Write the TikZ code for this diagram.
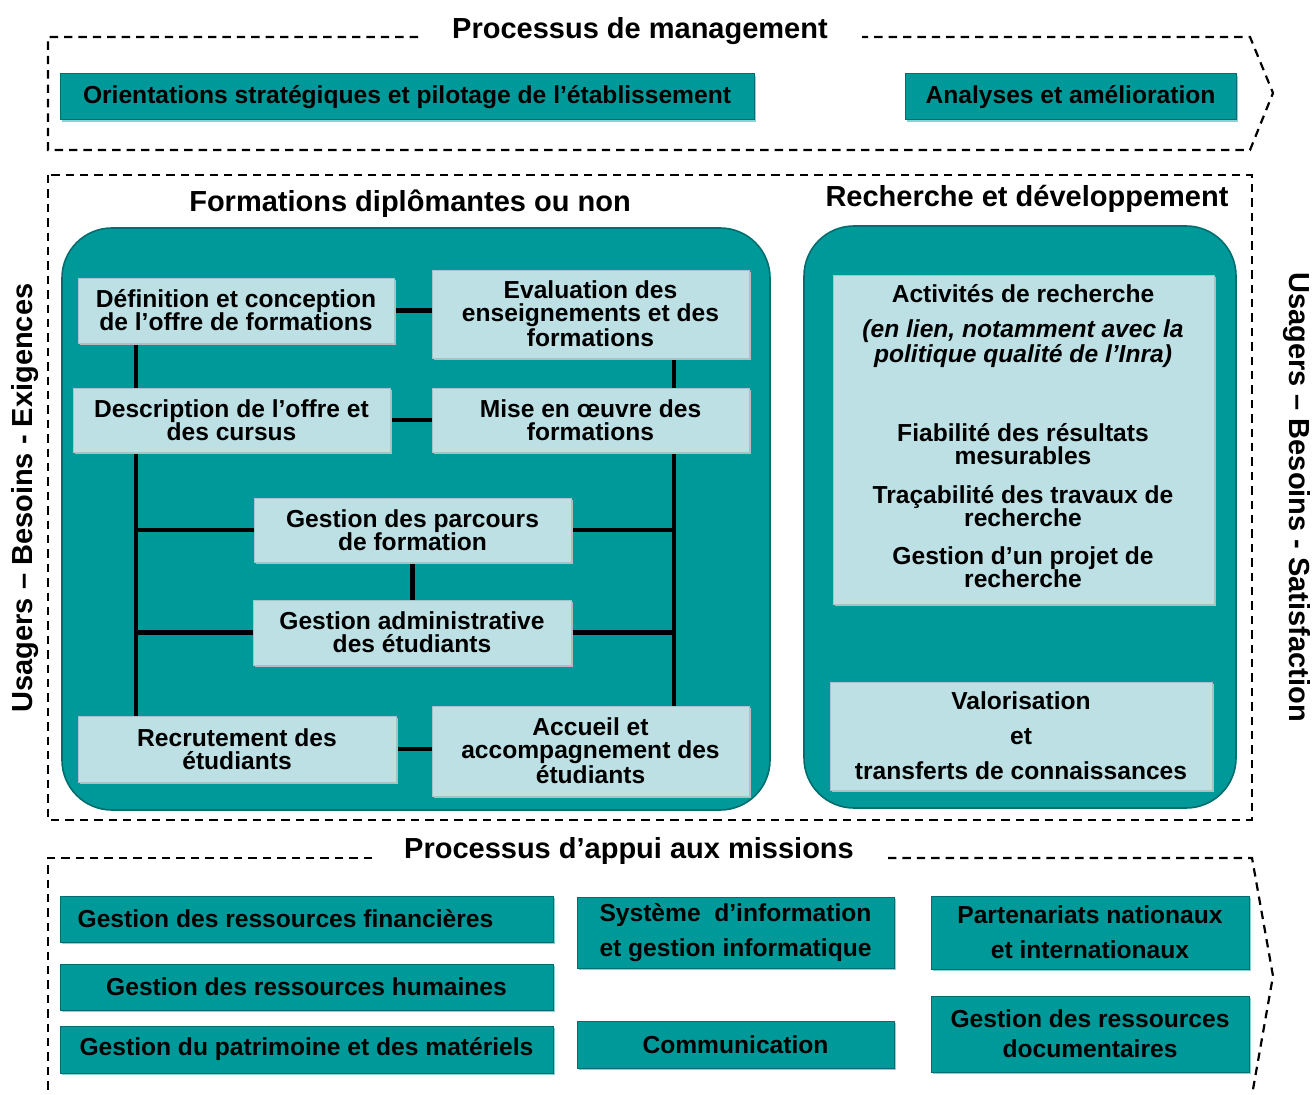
\documentclass[tikz,border=0pt]{standalone}
\usepackage{fontspec}
\setmainfont{Liberation Sans}
\usetikzlibrary{shadows,calc}

\definecolor{procteal}{HTML}{009999}
\definecolor{procedge}{HTML}{006E6E}
\definecolor{paleteal}{HTML}{BDE0E4}
\definecolor{paleedge}{HTML}{A3C4C8}
\definecolor{glow}{HTML}{86D4D6}

\pgfdeclarelayer{panels}
\pgfdeclarelayer{links}
\pgfsetlayers{panels,links,main}

\tikzset{
  frame/.style={draw=black, line width=1.1pt, dash pattern=on 4.2pt off 3pt},
  procbox/.style={fill=procteal, draw=procedge, line width=0.5pt,
    drop shadow={shadow xshift=1pt, shadow yshift=-1.2pt, fill=glow, opacity=1},
    font=\bfseries\fontsize{12.3}{14}\selectfont, align=center, inner sep=0pt},
  subbox/.style={fill=paleteal, draw=paleedge, line width=0.4pt,
    drop shadow={shadow xshift=0.8pt, shadow yshift=-0.8pt, fill=gray!55, opacity=1},
    font=\bfseries\fontsize{12.3}{11.5}\selectfont, align=center, inner sep=0pt},
  panel/.style={fill=procteal, draw=procedge, line width=0.8pt, rounded corners=25pt, inner sep=0pt},
  link/.style={line width=2.2pt, draw=black},
  heading/.style={font=\bfseries\fontsize{14.5}{17}\selectfont, inner sep=0pt},
  plain/.style={font=\bfseries\fontsize{12.3}{11.5}\selectfont, align=center, inner sep=0pt},
}

% box from corner (x1,y1) to (x2,y2), in pixel units
\newcommand\placebox[7]{%
  \node[#6, minimum width={(#4-#2)*0.5pt}, minimum height={(#5-#3)*0.5pt}]
    (#1) at ({(#2+#4)/2},{(#3+#5)/2}) {#7};}

\begin{document}
\begin{tikzpicture}[x=0.5pt, y=-0.5pt]
\useasboundingbox (0,0) rectangle (1315,1095);

% ---------- management processes ----------
\draw[frame] (418,37) -- (48,37) -- (48,150) -- (1250,150) -- (1273,93) -- (1250,37) -- (862,37);
\node[heading] (mgmt) at (640,31) {Processus de management};
\placebox{orient}{60}{74}{754}{120}{procbox}{Orientations stratégiques et pilotage de l’établissement}
\placebox{analyse}{905}{74}{1236}{120}{procbox}{Analyses et amélioration}

% ---------- core missions ----------
\draw[frame] (48,175) rectangle (1252,820);
\node[heading] (form) at (410,204) {Formations diplômantes ou non};
\node[heading] (rech) at (1027,199) {Recherche et développement};
\node[heading, rotate=90] (usersIn) at (25,498) {Usagers – Besoins - Exigences};
\node[heading, rotate=-90] (usersOut) at (1297,497) {Usagers – Besoins - Satisfaction};

\begin{pgfonlayer}{panels}
  \placebox{formPanel}{62}{228}{770}{810}{panel}{}
  \placebox{rechPanel}{804}{226}{1236}{808}{panel}{}
\end{pgfonlayer}

% teaching sub-processes
\placebox{def}{78}{278}{394}{343}{subbox}{Définition et conception\\de l’offre de formations}
\placebox{eval}{432}{270}{749}{358}{subbox}{Evaluation des\\enseignements et des\\formations}
\placebox{desc}{73}{388}{390}{452}{subbox}{Description de l’offre et\\des cursus}
\placebox{mise}{432}{388}{749}{452}{subbox}{Mise en œuvre des\\formations}
\placebox{parcours}{254}{498}{571}{562}{subbox}{Gestion des parcours\\de formation}
\placebox{admin}{253}{600}{571}{665}{subbox}{Gestion administrative\\des étudiants}
\placebox{recrut}{78}{716}{396}{782}{subbox}{Recrutement des\\étudiants}
\placebox{accueil}{432}{706}{749}{796}{subbox}{Accueil et\\accompagnement des\\étudiants}

\coordinate (lbus) at (136,0);
\coordinate (rbus) at (674,0);

\begin{pgfonlayer}{links}
  \draw[link] (def.east) -- (def.east -| eval.west);
  \draw[link] (desc.east) -- (desc.east -| mise.west);
  \draw[link] (recrut.east) -- (recrut.east -| accueil.west);
  \draw[link] (lbus |- def.south) -- (lbus |- recrut.north);
  \draw[link] (rbus |- eval.south) -- (rbus |- accueil.north);
  \draw[link] (parcours.west) -- (parcours.west -| lbus);
  \draw[link] (parcours.east) -- (parcours.east -| rbus);
  \draw[link] (admin.west) -- (admin.west -| lbus);
  \draw[link] (admin.east) -- (admin.east -| rbus);
  \draw[link] (parcours.south) -- (parcours.south |- admin.north);
\end{pgfonlayer}

% research sub-processes
\placebox{act}{833}{275}{1214}{604}{subbox}{}
\node[plain] (actTitle) at (1023,294) {Activités de recherche};
\node[plain, font=\bfseries\itshape\fontsize{12.3}{11.5}\selectfont] (actNote) at (1023,344) {(en lien, notamment avec la\\politique qualité de l’Inra)};
\node[plain] (actFiab) at (1023,444) {Fiabilité des résultats\\mesurables};
\node[plain] (actTrac) at (1023,506) {Traçabilité des travaux de\\recherche};
\node[plain] (actProj) at (1023,567) {Gestion d’un projet de\\recherche};
\placebox{valo}{830}{682}{1212}{790}{subbox, font=\bfseries\fontsize{12.3}{17.5}\selectfont}{Valorisation\\et\\transferts de connaissances}

% ---------- support processes ----------
\draw[frame] (372,858) -- (48,858) -- (48,1095);
\draw[frame] (888,858) -- (1252,858) -- (1273,976) -- (1252,1095);
\node[heading] (appui) at (629,851) {Processus d’appui aux missions};

\placebox{fin}{60}{896}{553}{942}{procbox}{Gestion des ressources financières\hspace*{21pt}}
\placebox{hum}{60}{964}{553}{1010}{procbox}{Gestion des ressources humaines}
\placebox{patr}{60}{1026}{553}{1073}{procbox}{Gestion du patrimoine et des matériels}
\placebox{si}{577}{897}{894}{968}{procbox, font=\bfseries\fontsize{12.3}{17.5}\selectfont}{Système\ \ d’information\\et gestion informatique}
\placebox{comm}{577}{1021}{894}{1068}{procbox}{Communication}
\placebox{part}{931}{896}{1249}{969}{procbox, font=\bfseries\fontsize{12.3}{17.5}\selectfont}{Partenariats nationaux\\et internationaux}
\placebox{doc}{931}{996}{1249}{1072}{procbox, font=\bfseries\fontsize{12.3}{15}\selectfont}{Gestion des ressources\\documentaires}

\end{tikzpicture}
\end{document}
